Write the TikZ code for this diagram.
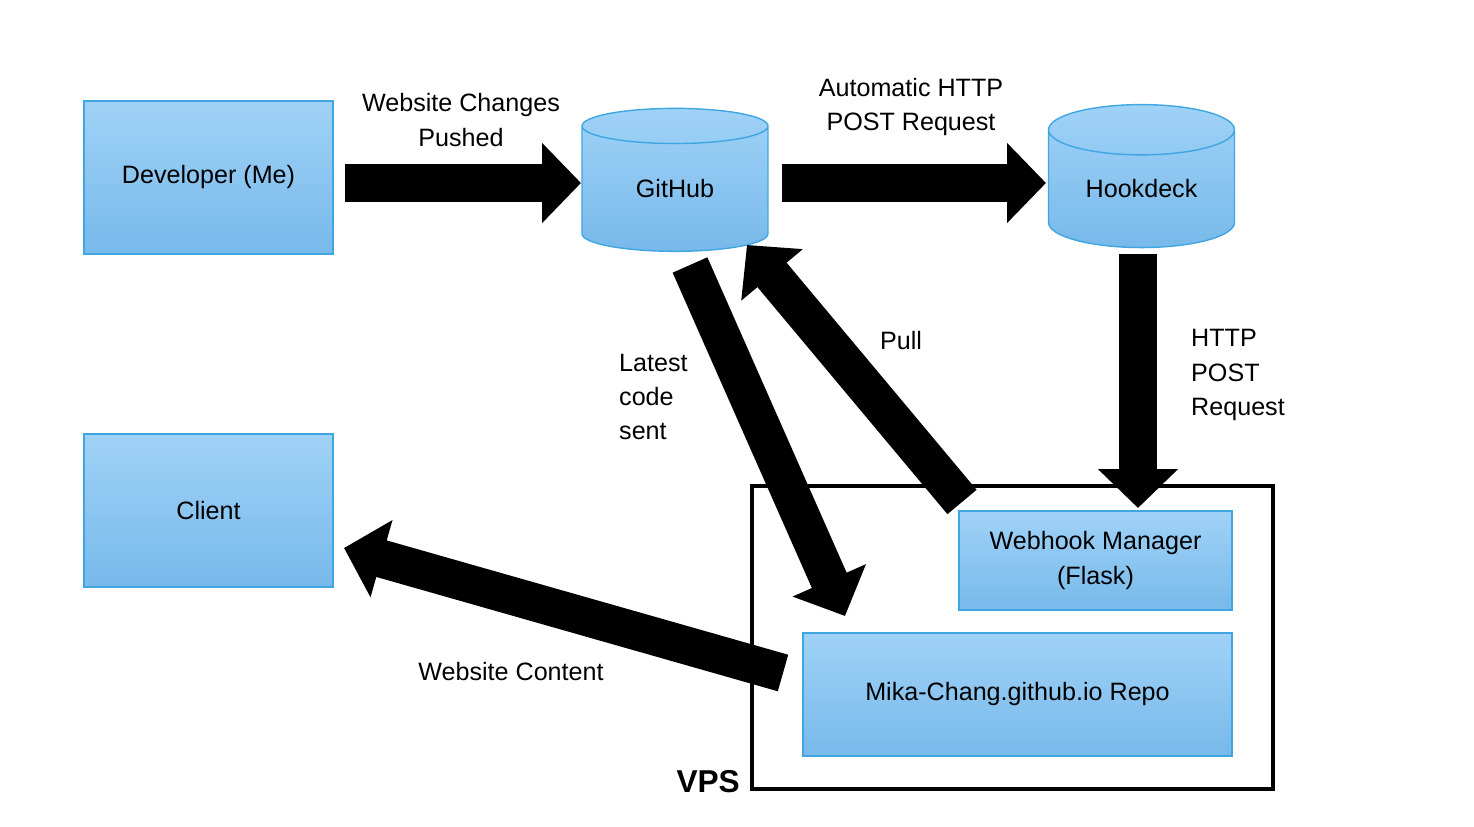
\documentclass[tikz,border=0pt]{standalone}
\usepackage{fontspec}
\setmainfont{Liberation Sans}
\usetikzlibrary{shapes.geometric,arrows.meta}
\definecolor{boxtop}{HTML}{A0D2F7}
\definecolor{boxbot}{HTML}{77B9EA}
\definecolor{boxline}{HTML}{3FA6E2}
\tikzset{
  block/.style={rectangle,draw=boxline,thick,top color=boxtop,bottom color=boxbot,
                align=center,inner sep=0pt},
  store/.style={cylinder,shape border rotate=90,aspect=0.45,draw=boxline,thick,
                top color=boxtop,bottom color=boxbot,inner sep=0pt,
                minimum width=3.72cm,minimum height=2.86cm},
  bigarrow/.style={line width=0.76cm,-{Triangle[length=0.78cm,width=1.56cm]}},
  label/.style={align=center}
}
\begin{document}
\begin{tikzpicture}[x=0.02cm,y=-0.02cm,font=\fontsize{14.3}{19.5}\selectfont]
	\useasboundingbox (0,0) rectangle (1474,827);

	\node[block,minimum width=4.98cm,minimum height=3.06cm] (dev) at (208.5,177.5) {Developer (Me)};
	\node[block,minimum width=4.98cm,minimum height=3.06cm] (client) at (208.5,510.5) {Client};
	\node[store] (github) at (675,189) {GitHub};
	\node[store] (hook) at (1141.5,189) {Hookdeck};

	\draw[line width=2.3pt] (752,486) rectangle (1273,789);
	\node[font=\fontsize{18}{20}\selectfont\bfseries,anchor=south east] (vps) at (746,799) {VPS};
	\node[block,minimum width=5.46cm,minimum height=1.98cm] (flask) at (1095.5,560.5) {Webhook Manager\\(Flask)};
	\node[block,minimum width=8.58cm,minimum height=2.46cm] (repo) at (1017.5,694.5) {Mika-Chang.github.io Repo};

	% arrow ends
	\coordinate (a1s) at (345,183);   \coordinate (a1e) at (581,183);
	\coordinate (a2s) at (782,183);   \coordinate (a2e) at (1046,183);
	\coordinate (a3s) at (1138,254);  \coordinate (a3e) at (1138,508);
	\coordinate (a4s) at (690,265);   \coordinate (a4e) at (845,616);
	\coordinate (a5s) at (962,502);   \coordinate (a5e) at (747,245);
	\coordinate (a6s) at (783,673);   \coordinate (a6e) at (344,548);

	\draw[bigarrow] (a1s) -- (a1e);
	\draw[bigarrow] (a2s) -- (a2e);
	\draw[bigarrow] (a3s) -- (a3e);
	\draw[bigarrow] (a4s) -- (a4e);
	\draw[bigarrow] (a5s) -- (a5e);
	\draw[bigarrow] (a6s) -- (a6e);

	\node[label] (l1) at (461,120) {Website Changes\\Pushed};
	\node[label] (l2) at (911,107) {Automatic HTTP\\POST Request};
	\node[align=left,anchor=west] (l3) at (1185,375) {HTTP\\POST\\Request};
	\node[align=left,anchor=west] (l4) at (613,397) {Latest\\code\\sent};
	\node (l5) at (901,341) {Pull};
	\node (l6) at (511,672) {Website Content};
\end{tikzpicture}
\end{document}
